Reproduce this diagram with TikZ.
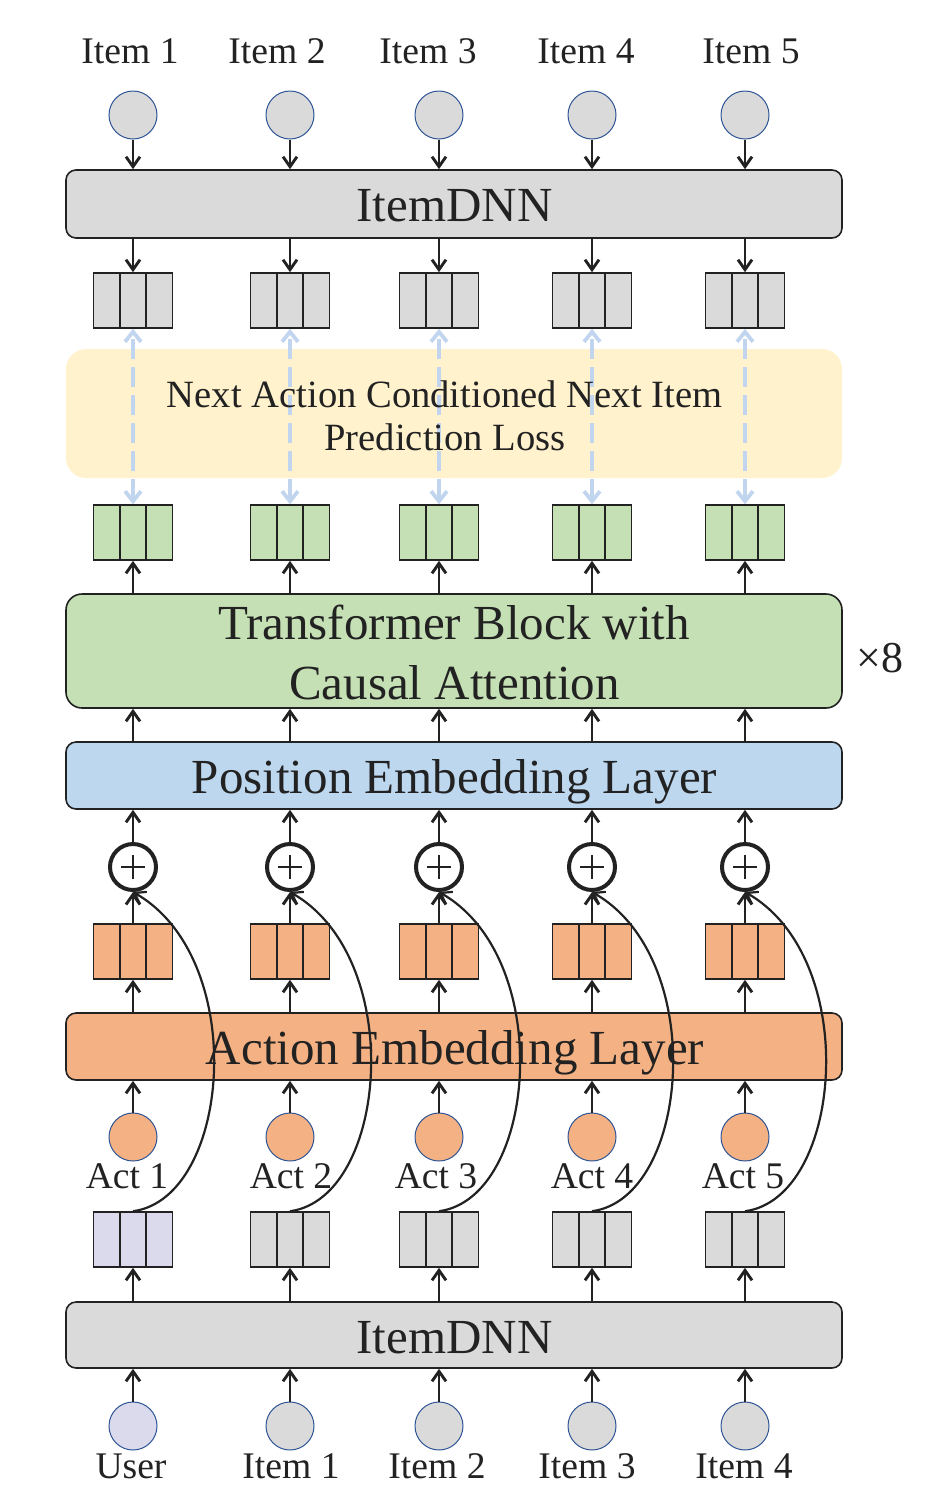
\documentclass[tikz,border=0pt]{standalone}
\usepackage{fontspec}
\setmainfont{Liberation Serif}
\usetikzlibrary{arrows.meta}
\definecolor{boxgray}{HTML}{DADADA}
\definecolor{lossyellow}{HTML}{FFF2CC}
\definecolor{tfgreen}{HTML}{C5E0B4}
\definecolor{posblue}{HTML}{BDD7EE}
\definecolor{actorange}{HTML}{F4B183}
\definecolor{userlav}{HTML}{DADAEC}
\definecolor{dashblue}{HTML}{C2D5EF}
\definecolor{circline}{HTML}{2F5597}
\definecolor{ink}{HTML}{222222}
\begin{document}
\begin{tikzpicture}[x=0.5pt,y=-0.5pt,
  arr/.style={-{Straight Barb[length=5pt,width=7pt]}, line width=1.45pt, draw=ink},
  curarr/.style={-{Straight Barb[length=5pt,width=7pt]}, line width=1.1pt, draw=ink},
  dasharr/.style={{Straight Barb[length=5pt,width=8pt]}-{Straight Barb[length=5pt,width=8pt]}, line width=1.9pt, draw=dashblue, dash pattern=on 10pt off 4pt},
  layer/.style={draw=ink, line width=0.8pt, rounded corners=5pt, minimum width=388pt, inner sep=0pt},
  vec/.style={draw=ink, line width=0.8pt, minimum width=39.5pt, minimum height=27.5pt, inner sep=0pt,
    path picture={\draw[ink, line width=0.8pt]
      ([xshift=-6.58pt]path picture bounding box.north) -- ([xshift=-6.58pt]path picture bounding box.south)
      ([xshift=6.58pt]path picture bounding box.north) -- ([xshift=6.58pt]path picture bounding box.south);}},
  incirc/.style={circle, draw=circline, line width=0.5pt, minimum size=24pt, inner sep=0pt},
  plus/.style={circle, draw=ink, line width=2pt, minimum size=23pt, inner sep=0pt, fill=white,
    path picture={\draw[ink, line width=1.4pt]
      ([xshift=-5.8pt]path picture bounding box.center) -- ([xshift=5.8pt]path picture bounding box.center)
      ([yshift=-5.8pt]path picture bounding box.center) -- ([yshift=5.8pt]path picture bounding box.center);}},
  lbl/.style={anchor=base, inner sep=0pt, text=ink, font=\fontsize{18.8}{22}\selectfont},
  biglbl/.style={anchor=base, inner sep=0pt, text=ink, font=\fontsize{24.5}{28}\selectfont},
  losslbl/.style={anchor=base, inner sep=0pt, text=ink, font=\fontsize{19.3}{22}\selectfont}
]
\useasboundingbox (0,0) rectangle (928,1500);

% layers
\node[layer, fill=boxgray, minimum height=34pt] (dnnT) at (454,204) {};
\node[biglbl] (dnnTt) at (454.5,221) {ItemDNN};
\node[fill=lossyellow, rounded corners=10pt, minimum width=388pt, minimum height=64.5pt, inner sep=0pt] (loss) at (454,413.5) {};
\node[layer, fill=tfgreen, minimum height=57pt, rounded corners=8pt] (tf) at (454,651) {};
\node[biglbl] (tf1) at (454,639) {Transformer Block with};
\node[biglbl] (tf2) at (454.5,699) {Causal Attention};
\node[anchor=base, inner sep=0pt, text=ink, font=\fontsize{22}{26}\selectfont] (times8) at (880,672) {×8};
\node[layer, fill=posblue, minimum height=33.5pt] (pe) at (454,775.5) {};
\node[biglbl] (pet) at (454.5,793) {Position Embedding Layer};
\node[layer, fill=actorange, minimum height=33.5pt] (ae) at (454,1046.5) {};
\node[layer, fill=boxgray, minimum height=33pt] (dnnB) at (454,1335) {};
\node[biglbl] (dnnBt) at (454.5,1353) {ItemDNN};

% columns
\foreach \x/\tx/\ax [count=\i] in {133/130/127, 290/277/291, 439/428/436, 592/586/592, 745/751/743} {
  \node[lbl] (tl\i) at (\tx,63) {Item \i};
  \node[incirc, fill=boxgray] (ti\i) at (\x,115) {};
  \node[vec, fill=boxgray] (tv\i) at (\x,300.5) {};
  \node[vec, fill=tfgreen] (gv\i) at (\x,532.5) {};
  \node[plus] (p\i) at (\x,867) {};
  \node[vec, fill=actorange] (ov\i) at (\x,951.5) {};
  \node[incirc, fill=actorange] (ac\i) at (\x,1137) {};
  \node[lbl] (al\i) at (\ax,1188) {Act \i};
  \draw[arr] (ti\i.south) -- (ti\i |- dnnT.north);
  \draw[arr] (tv\i |- dnnT.south) -- (tv\i.north);
  \draw[dasharr] (gv\i.north) -- (tv\i.south);
  \draw[arr] (gv\i |- tf.north) -- (gv\i.south);
  \draw[arr] (gv\i |- pe.north) -- (gv\i |- tf.south);
  \draw[arr] (p\i.north) -- (p\i |- pe.south);
  \draw[arr] (ov\i.north) -- (p\i.south);
  \draw[arr] (ov\i |- ae.north) -- (ov\i.south);
  \draw[arr] (ac\i.north) -- (ac\i |- ae.south);
}
\node[losslbl] (loss1) at (444.5,407) {Next Action Conditioned Next Item};
\node[losslbl] (loss2) at (445,450) {Prediction Loss};
\foreach \x/\bx/\nm [count=\i] in {133/131/User, 290/291/Item 1, 439/437/Item 2, 592/587/Item 3, 745/744/Item 4} {
  \ifnum\i=1
    \node[vec, fill=userlav] (bv\i) at (\x,1239.5) {};
    \node[incirc, fill=userlav] (bc\i) at (\x,1426) {};
  \else
    \node[vec, fill=boxgray] (bv\i) at (\x,1239.5) {};
    \node[incirc, fill=boxgray] (bc\i) at (\x,1426) {};
  \fi
  \node[lbl] (bl\i) at (\bx,1478) {\nm};
  \draw[arr] (bv\i |- dnnB.north) -- (bv\i.south);
  \draw[arr] (bc\i.north) -- (bc\i |- dnnB.south);
}
\node[biglbl] (aet) at (455,1064) {Action Embedding Layer};
\foreach \i in {1,...,5} {
  \draw[curarr] (bv\i.north) .. controls +(98,-13) and +(117,67) .. (p\i.south);
}
\end{tikzpicture}
\end{document}
